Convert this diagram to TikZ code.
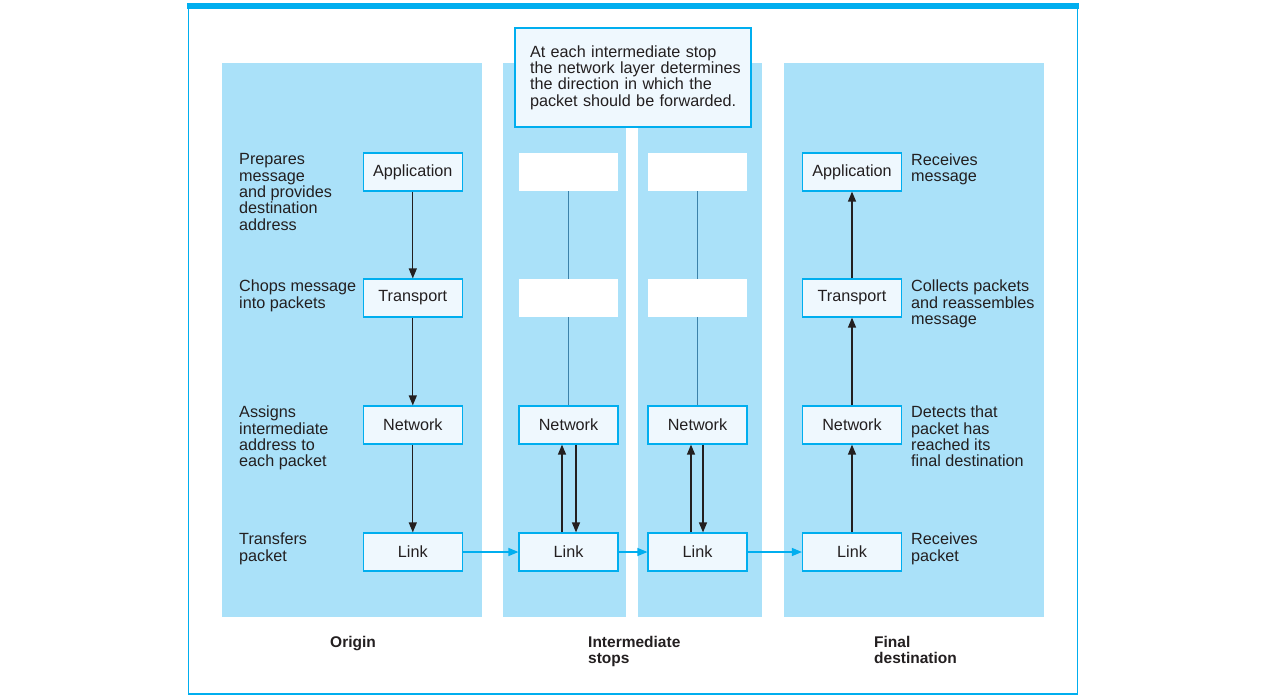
\documentclass[tikz,border=0pt]{standalone}
\usepackage{fontspec}
\setmainfont{Liberation Sans}
\usetikzlibrary{arrows.meta}
\definecolor{cyanline}{RGB}{0,174,239}
\definecolor{panel}{RGB}{170,225,249}
\definecolor{boxfill}{RGB}{239,248,254}
\definecolor{ink}{RGB}{35,31,32}
\definecolor{thinline}{RGB}{60,130,170}
\begin{document}
\begin{tikzpicture}[x=1pt,y=-1pt,
 layer/.style={draw=cyanline, fill=boxfill, line width=1.2pt, minimum width=99pt, minimum height=38pt, inner sep=0pt, font=\fontsize{16.2}{16.3}\selectfont, text=ink},
 blank/.style={fill=white, minimum width=99pt, minimum height=38pt, inner sep=0pt},
 lbl/.style={anchor=north west, align=left, inner sep=0pt, font=\fontsize{16.2}{16.3}\selectfont, text=ink},
 capt/.style={anchor=north west, align=left, inner sep=0pt, font=\bfseries\fontsize{15.5}{16.3}\selectfont, text=ink},
 flow/.style={draw=ink, line width=1.3pt, -{Triangle[length=10pt,width=8pt]}},
 hop/.style={draw=cyanline, line width=1.3pt, -{Triangle[length=10pt,width=8pt]}},
 tie/.style={draw=thinline, line width=0.7pt}]
\useasboundingbox (0,0) rectangle (1264,699);
% frame
\draw[cyanline, line width=1.5pt] (188.3,6) -- (188.3,694) -- (1077.3,694) -- (1077.3,6);
\fill[cyanline] (187,3) rectangle (1079,9);
% panels
\fill[panel] (222,63) rectangle (482,617);
\fill[panel] (503,63) rectangle (626,617);
\fill[panel] (638,63) rectangle (762,617);
\fill[panel] (784,63) rectangle (1044,617);
% callout
\node[draw=cyanline, fill=boxfill, line width=1.2pt, minimum width=236pt, minimum height=99pt, text width=206pt, inner xsep=15pt, inner ysep=0pt, align=left, font=\fontsize{16.2}{16.3}\selectfont, text=ink] (note) at (633,77.5)
 {\mbox{At each intermediate stop}\\\mbox{the network layer determines}\\\mbox{the direction in which the}\\\mbox{packet should be forwarded.}};
% origin column
\node[layer] (oa) at (412.8,172) {Application};
\node[layer] (ot) at (412.8,298) {Transport};
\node[layer] (on) at (412.8,425) {Network};
\node[layer] (ol) at (412.8,552) {Link};
% intermediate 1
\node[blank] (ia1) at (568.5,172) {};
\node[blank] (it1) at (568.5,298) {};
\node[layer] (in1) at (568.5,425) {Network};
\node[layer] (il1) at (568.5,552) {Link};
% intermediate 2
\node[blank] (ia2) at (697.5,172) {};
\node[blank] (it2) at (697.5,298) {};
\node[layer] (in2) at (697.5,425) {Network};
\node[layer] (il2) at (697.5,552) {Link};
% final column
\node[layer] (fa) at (852,172) {Application};
\node[layer] (ft) at (852,298) {Transport};
\node[layer] (fn) at (852,425) {Network};
\node[layer] (fl) at (852,552) {Link};
% connectors origin
\draw[flow] (oa) -- (ot);
\draw[flow] (ot) -- (on);
\draw[flow] (on) -- (ol);
% intermediate
\draw[tie] (ia1) -- (it1);
\draw[tie] (it1) -- (in1);
\draw[tie] (ia2) -- (it2);
\draw[tie] (it2) -- (in2);
\draw[flow] ([xshift=-6.5pt]il1.north) -- ([xshift=-6.5pt]in1.south);
\draw[flow] ([xshift=7.5pt]in1.south) -- ([xshift=7.5pt]il1.north);
\draw[flow] ([xshift=-6.5pt]il2.north) -- ([xshift=-6.5pt]in2.south);
\draw[flow] ([xshift=5.5pt]in2.south) -- ([xshift=5.5pt]il2.north);
% final
\draw[flow] (fl) -- (fn);
\draw[flow] (fn) -- (ft);
\draw[flow] (ft) -- (fa);
% link hops
\draw[hop] (ol) -- (il1);
\draw[hop] (il1) -- (il2);
\draw[hop] (il2) -- (fl);
% left labels
\node[lbl] (l1) at (239,153.5) {Prepares\\message\\and provides\\destination\\address};
\node[lbl] (l2) at (239,280) {Chops message\\into packets};
\node[lbl] (l3) at (239,406) {Assigns\\intermediate\\address to\\each packet};
\node[lbl] (l4) at (239,533) {Transfers\\packet};
% right labels
\node[lbl] (r1) at (911,153.5) {Receives\\message};
\node[lbl] (r2) at (911,280) {Collects packets\\and reassembles\\message};
\node[lbl] (r3) at (911,406) {Detects that\\packet has\\reached its\\final destination};
\node[lbl] (r4) at (911,533) {Receives\\packet};
% captions
\node[capt] (c1) at (330,636) {Origin};
\node[capt] (c2) at (588,636) {Intermediate\\stops};
\node[capt] (c3) at (874,636) {Final\\destination};
\end{tikzpicture}
\end{document}
